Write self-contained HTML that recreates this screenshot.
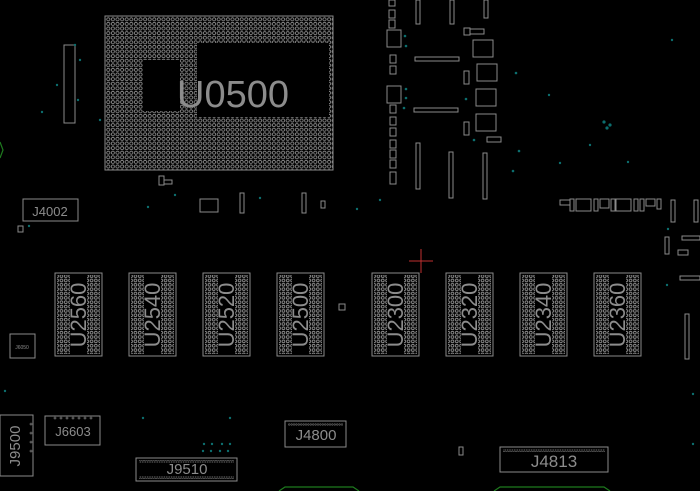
<!DOCTYPE html>
<html><head><meta charset="utf-8"><style>
html,body{margin:0;padding:0;background:#000;}
svg{display:block;}
text{font-family:"Liberation Sans",sans-serif;fill:#8c8c8c;}
</style></head><body>
<svg width="700" height="491" viewBox="0 0 700 491" xmlns="http://www.w3.org/2000/svg">
<defs>
<pattern id="bga" x="106" y="17" width="4.6" height="4.6" patternUnits="userSpaceOnUse">
<circle cx="2.3" cy="2.3" r="1.6" fill="none" stroke="#9a9a9a" stroke-width="0.8"/>
</pattern>
<pattern id="mem" x="0" y="275" width="4.3" height="4.35" patternUnits="userSpaceOnUse">
<circle cx="2.15" cy="2.15" r="1.4" fill="none" stroke="#9a9a9a" stroke-width="0.8"/>
</pattern>
<pattern id="pins" x="0" y="0" width="2.4" height="3" patternUnits="userSpaceOnUse">
<circle cx="1.2" cy="1.5" r="0.8" fill="none" stroke="#8a8a8a" stroke-width="0.5"/>
</pattern>
<g id="chip">
<rect x="0" y="0" width="47" height="83" fill="none" stroke="#8a8a8a" stroke-width="1"/>
<rect x="2" y="2" width="13" height="79" fill="url(#mem)"/>
<rect x="32" y="2" width="13" height="79" fill="url(#mem)"/>
</g>
</defs>
<!-- U0500 -->
<rect x="105" y="16" width="228" height="154" fill="url(#bga)" stroke="#8a8a8a" stroke-width="1"/>
<rect x="197" y="43" width="132" height="74" fill="#000"/>
<rect x="143" y="60" width="37" height="51" fill="#000"/>
<text x="233" y="107" font-size="38" text-anchor="middle">U0500</text>
<!-- memory chips -->
<g transform="translate(55,273)"><use href="#chip"/><text transform="translate(31,42) rotate(-90)" font-size="22" text-anchor="middle">U2560</text></g>
<g transform="translate(129,273)"><use href="#chip"/><text transform="translate(31,42) rotate(-90)" font-size="22" text-anchor="middle">U2540</text></g>
<g transform="translate(203,273)"><use href="#chip"/><text transform="translate(31,42) rotate(-90)" font-size="22" text-anchor="middle">U2520</text></g>
<g transform="translate(277,273)"><use href="#chip"/><text transform="translate(31,42) rotate(-90)" font-size="22" text-anchor="middle">U2500</text></g>
<g transform="translate(372,273)"><use href="#chip"/><text transform="translate(31,42) rotate(-90)" font-size="22" text-anchor="middle">U2300</text></g>
<g transform="translate(446,273)"><use href="#chip"/><text transform="translate(31,42) rotate(-90)" font-size="22" text-anchor="middle">U2320</text></g>
<g transform="translate(520,273)"><use href="#chip"/><text transform="translate(31,42) rotate(-90)" font-size="22" text-anchor="middle">U2340</text></g>
<g transform="translate(594,273)"><use href="#chip"/><text transform="translate(31,42) rotate(-90)" font-size="22" text-anchor="middle">U2360</text></g>
<!-- connector pin rows -->
<rect x="139" y="460" width="95" height="3" fill="url(#pins)"/>
<rect x="139" y="476" width="95" height="3" fill="url(#pins)"/>
<rect x="288" y="423" width="55" height="3" fill="url(#pins)"/>
<rect x="503" y="449" width="102" height="3" fill="url(#pins)"/>
<g fill="none" stroke="#8a8a8a" stroke-width="0.6">
<circle cx="55" cy="418" r="1"/><circle cx="61" cy="418" r="1"/><circle cx="67" cy="418" r="1"/><circle cx="73" cy="418" r="1"/><circle cx="79" cy="418" r="1"/><circle cx="85" cy="418" r="1"/><circle cx="91" cy="418" r="1"/>
<circle cx="31" cy="424" r="1"/><circle cx="31" cy="433" r="1"/><circle cx="31" cy="442" r="1"/><circle cx="31" cy="451" r="1"/>
</g>
<g fill="none" stroke="#8a8a8a" stroke-width="1">
<!-- connectors -->
<rect x="23" y="199" width="55" height="22"/>
<rect x="45" y="416" width="55" height="29"/>
<rect x="0" y="415" width="33" height="61"/>
<rect x="285" y="421" width="61" height="26"/>
<rect x="136" y="458" width="101" height="23"/>
<rect x="500" y="447" width="108" height="25"/>
<rect x="10" y="334" width="25" height="24"/>
<rect x="200" y="199" width="18" height="13"/>
<rect x="64" y="45" width="11" height="78"/>
<!-- strips right of CPU -->
<rect x="416" y="0" width="4" height="24"/>
<rect x="450" y="0" width="4" height="24"/>
<rect x="484" y="0" width="4" height="18"/>
<rect x="415" y="57" width="44" height="4"/>
<rect x="414" y="108" width="44" height="4"/>
<rect x="416" y="143" width="4" height="46"/>
<rect x="449" y="152" width="4" height="46"/>
<rect x="483" y="153" width="4" height="46"/>
<rect x="387" y="30" width="14" height="17"/>
<rect x="387" y="86" width="14" height="17"/>
<rect x="473" y="40" width="20" height="17"/>
<rect x="477" y="64" width="20" height="17"/>
<rect x="476" y="89" width="20" height="17"/>
<rect x="476" y="114" width="20" height="17"/>
<rect x="464" y="28" width="6" height="7"/>
<rect x="470" y="29" width="14" height="5"/>
<rect x="464" y="71" width="5" height="13"/>
<rect x="464" y="122" width="5" height="13"/>
<rect x="487" y="137" width="14" height="5"/>
<rect x="389" y="0" width="6" height="6"/><rect x="389" y="10" width="6" height="8"/><rect x="389" y="20" width="6" height="8"/>
<rect x="390" y="55" width="6" height="8"/><rect x="390" y="66" width="6" height="8"/><rect x="390" y="105" width="6" height="8"/><rect x="390" y="117" width="6" height="8"/><rect x="390" y="128" width="6" height="8"/><rect x="390" y="140" width="6" height="8"/><rect x="390" y="150" width="6" height="8"/><rect x="390" y="160" width="6" height="8"/><rect x="390" y="172" width="6" height="12"/>
<rect x="240" y="193" width="4" height="20"/>
<rect x="302" y="193" width="4" height="20"/>
<rect x="321" y="201" width="4" height="7"/>
<rect x="339" y="304" width="6" height="6"/>
<rect x="159" y="176" width="5" height="9"/><rect x="164" y="180" width="8" height="4"/>
<rect x="18" y="226" width="5" height="6"/>
<rect x="459" y="447" width="4" height="8"/>
<!-- right side -->
<rect x="560" y="200" width="10" height="5"/><rect x="570" y="199" width="4" height="12"/><rect x="576" y="199" width="15" height="12"/><rect x="594" y="199" width="4" height="12"/><rect x="600" y="199" width="9" height="9"/><rect x="611" y="199" width="4" height="12"/><rect x="616" y="199" width="15" height="12"/><rect x="634" y="199" width="4" height="12"/><rect x="640" y="199" width="4" height="12"/><rect x="646" y="199" width="9" height="7"/><rect x="657" y="199" width="4" height="10"/>
<rect x="671" y="200" width="4" height="22"/><rect x="694" y="200" width="4" height="22"/>
<rect x="665" y="237" width="4" height="17"/>
<rect x="682" y="236" width="18" height="4"/>
<rect x="678" y="250" width="10" height="5"/>
<rect x="680" y="276" width="20" height="4"/>
<rect x="685" y="314" width="4" height="45"/>
</g>
<g fill="#8c8c8c" font-size="13">
<text x="50" y="216" text-anchor="middle">J4002</text>
<text x="73" y="436" text-anchor="middle">J6603</text>
<text x="316" y="440" font-size="15" text-anchor="middle">J4800</text>
<text x="187" y="474" font-size="15" text-anchor="middle">J9510</text>
<text x="554" y="467" font-size="17" text-anchor="middle">J4813</text>
<text transform="translate(20,446) rotate(-90)" font-size="15" text-anchor="middle">J9500</text>
<text x="22" y="349" font-size="5" text-anchor="middle">J6050</text>
</g>
<!-- red cross -->
<g stroke="#c03030" stroke-width="1"><line x1="409" y1="261" x2="433" y2="261"/><line x1="421" y1="249" x2="421" y2="273"/></g>
<!-- green outlines -->
<g fill="none" stroke="#1e7a1e" stroke-width="1.2">
<path d="M279,491 L285,487 L353,487 L359,491"/>
<path d="M494,491 L500,487 L604,487 L610,491"/>
<path d="M0,142 L3,150 L0,158"/>
</g>
<!-- teal vias -->
<g fill="#0c6e6e">
<circle cx="405" cy="36" r="1.3"/><circle cx="406" cy="46" r="1.3"/><circle cx="406" cy="89" r="1.3"/><circle cx="406" cy="98" r="1.3"/><circle cx="404" cy="108" r="1.3"/>
<circle cx="466" cy="99" r="1.3"/><circle cx="474" cy="140" r="1.3"/><circle cx="516" cy="73" r="1.3"/><circle cx="519" cy="151" r="1.3"/><circle cx="513" cy="171" r="1.3"/>
<circle cx="75" cy="45" r="1.2"/><circle cx="80" cy="60" r="1.2"/><circle cx="57" cy="85" r="1.2"/><circle cx="78" cy="100" r="1.2"/><circle cx="42" cy="112" r="1.2"/><circle cx="100" cy="120" r="1.2"/>
<circle cx="604" cy="122" r="1.6"/><circle cx="610" cy="125" r="1.6"/><circle cx="607" cy="128" r="1.6"/><circle cx="549" cy="95" r="1.2"/><circle cx="590" cy="145" r="1.2"/><circle cx="628" cy="162" r="1.2"/><circle cx="560" cy="163" r="1.2"/><circle cx="672" cy="40" r="1.2"/>
<circle cx="143" cy="418" r="1.2"/><circle cx="230" cy="418" r="1.2"/><circle cx="204" cy="444" r="1.2"/><circle cx="212" cy="444" r="1.2"/><circle cx="222" cy="444" r="1.2"/><circle cx="230" cy="444" r="1.2"/><circle cx="203" cy="451" r="1.2"/><circle cx="211" cy="451" r="1.2"/><circle cx="220" cy="451" r="1.2"/><circle cx="228" cy="451" r="1.2"/>
<circle cx="5" cy="391" r="1.2"/><circle cx="693" cy="394" r="1.2"/><circle cx="693" cy="444" r="1.2"/>
<circle cx="148" cy="207" r="1.2"/><circle cx="260" cy="198" r="1.2"/><circle cx="357" cy="209" r="1.2"/><circle cx="380" cy="200" r="1.2"/><circle cx="175" cy="195" r="1.2"/><circle cx="29" cy="226" r="1.2"/><circle cx="668" cy="229" r="1.2"/><circle cx="667" cy="285" r="1.2"/>
</g>
</svg>
</body></html>
